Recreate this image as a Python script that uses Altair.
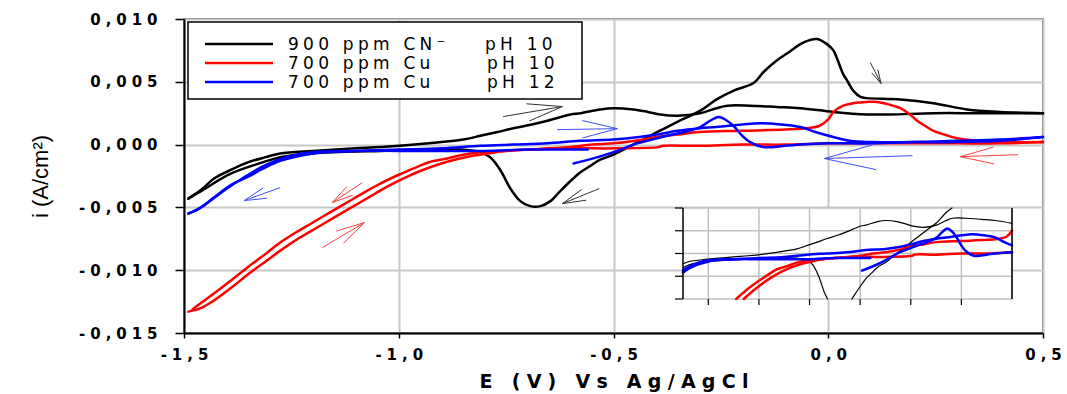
import math
import altair as alt
import pandas as pd

SP = "\u2004"
SP_LEG = "\u2005"


def spaced(s, sp=SP):
    return sp.join(s)


# ---------------- data ----------------
names = ["900 ppm CN\u207b pH 10", "700 ppm Cu pH 10", "700 ppm Cu pH 12"]
colors = ["#000000", "#ff0000", "#0000ff"]

# black : 900 ppm CN- pH 10
bf_E = [-1.49, -1.46, -1.43, -1.39, -1.35, -1.31, -1.276, -1.2, -1.1, -1.04, -0.93, -0.85, -0.81, -0.77,
        -0.733, -0.69, -0.654, -0.6, -0.577, -0.531, -0.5, -0.454, -0.42, -0.391, -0.352, -0.298, -0.26,
        -0.235, -0.182, -0.12, -0.065, 0.012, 0.09, 0.145, 0.245, 0.35, 0.5]
bf_i = [-0.0043, -0.0036, -0.0027, -0.0020, -0.0014, -0.0010, -0.0007, -0.0005, -0.0003, -0.0002, 0.0001,
        0.0004, 0.0007, 0.0010, 0.0013, 0.0016, 0.0019, 0.0024, 0.0025, 0.0028, 0.0029, 0.0028, 0.0026,
        0.0024, 0.0023, 0.0025, 0.0029, 0.0031, 0.0031, 0.0030, 0.0029, 0.0026, 0.0024, 0.0024, 0.0025,
        0.0025, 0.0025]
br_E = [0.5, 0.4, 0.323, 0.245, 0.168, 0.09, 0.075, 0.058, 0.044, 0.035, 0.02, 0.012, -0.003, -0.026, -0.045,
        -0.065, -0.09, -0.12, -0.15, -0.174, -0.22, -0.26, -0.298, -0.34, -0.375, -0.415, -0.454, -0.5, -0.531,
        -0.554, -0.577, -0.6, -0.624, -0.647, -0.67, -0.694, -0.717, -0.74, -0.764, -0.787, -0.81, -0.85, -0.93,
        -1.04, -1.2, -1.276, -1.315, -1.39, -1.46, -1.49]
br_i = [0.0025, 0.0026, 0.0028, 0.0033, 0.0036, 0.0037, 0.0038, 0.0043, 0.0051, 0.0056, 0.0069, 0.0075, 0.0080,
        0.0084, 0.0083, 0.0080, 0.0074, 0.0067, 0.0058, 0.0049, 0.0043, 0.0036, 0.0027, 0.0020, 0.0014, 0.0007,
        0.0000, -0.0008, -0.0012, -0.0017, -0.0022, -0.0029, -0.0037, -0.0045, -0.0049, -0.0049, -0.0045,
        -0.0035, -0.0020, -0.0010, -0.0006, -0.0004, -0.0004, -0.0005, -0.0007, -0.0010, -0.0014, -0.0023,
        -0.0037, -0.0043]

# red : 700 ppm Cu pH 10
rf_E = [-1.49, -1.46, -1.43, -1.39, -1.35, -1.31, -1.27, -1.23, -1.19, -1.15, -1.11, -1.07, -1.03, -0.99, -0.95,
        -0.91, -0.87, -0.83, -0.79, -0.75, -0.70, -0.65, -0.60, -0.55, -0.50, -0.45, -0.40, -0.35, -0.30, -0.20,
        -0.10, -0.05, -0.02, 0.0, 0.012, 0.035, 0.058, 0.09, 0.114, 0.14, 0.168, 0.19, 0.207, 0.225, 0.245, 0.27,
        0.30, 0.35, 0.40, 0.5]
rf_i = [-0.0133, -0.0130, -0.0124, -0.0114, -0.0103, -0.0093, -0.0083, -0.0074, -0.0066, -0.0058, -0.0050,
        -0.0042, -0.0034, -0.0027, -0.0021, -0.0016, -0.0012, -0.0009, -0.0007, -0.0005, -0.0004, -0.0003,
        -0.0002, 0.0, 0.0001, 0.0003, 0.0006, 0.0008, 0.0010, 0.0011, 0.0012, 0.0013, 0.0015, 0.0020, 0.0026,
        0.0031, 0.0033, 0.0034, 0.0034, 0.0032, 0.0029, 0.0024, 0.0019, 0.0015, 0.0011, 0.0008, 0.0005, 0.0003,
        0.0002, 0.0002]
rr_E = [0.5, 0.4, 0.3, 0.2, 0.1, 0.0, -0.1, -0.2, -0.3, -0.385, -0.395, -0.5, -0.6, -0.7, -0.75, -0.81, -0.85,
        -0.887, -0.93, -0.966, -1.0, -1.043, -1.08, -1.12, -1.16, -1.2, -1.24, -1.276, -1.31, -1.353, -1.39,
        -1.432, -1.46, -1.48]
rr_i = [0.0002, 0.0001, 0.0001, 0.0001, 0.0001, 0.0001, 0.0, 0.0, -0.0001, -0.0001, -0.0002, -0.0003, -0.0003,
        -0.0004, -0.0005, -0.0006, -0.0008, -0.0011, -0.0014, -0.0019, -0.0024, -0.0031, -0.0038, -0.0046,
        -0.0054, -0.0062, -0.0070, -0.0078, -0.0087, -0.0098, -0.0108, -0.0119, -0.0126, -0.0131]

# blue : 700 ppm Cu pH 12
ba_E = [-0.593, -0.547, -0.5, -0.445, -0.41, -0.375, -0.335, -0.298, -0.275, -0.256, -0.24, -0.221, -0.2,
        -0.182, -0.151, -0.1, -0.065, 0.0, 0.1, 0.2, 0.3, 0.4, 0.5]
ba_i = [-0.0015, -0.0011, -0.0006, 0.0001, 0.0004, 0.0007, 0.0010, 0.0014, 0.0019, 0.0022, 0.0020, 0.0015,
        0.0007, 0.0002, -0.0002, -0.0001, 0.0, 0.0001, 0.0001, 0.0002, 0.0003, 0.0004, 0.0006]
bb_E = [0.5, 0.4, 0.3, 0.2, 0.1, 0.05, 0.012, -0.03, -0.065, -0.11, -0.158, -0.2, -0.26, -0.298, -0.35, -0.4,
        -0.44, -0.5, -0.577, -0.654, -0.733, -0.81, -0.9, -1.0, -1.1, -1.2, -1.276, -1.315, -1.353, -1.39,
        -1.43, -1.46, -1.49]
bb_i = [0.0006, 0.0003, 0.0002, 0.0002, 0.0002, 0.0003, 0.0006, 0.0010, 0.0014, 0.0016, 0.0017, 0.0016, 0.0014,
        0.0013, 0.0011, 0.0008, 0.0006, 0.0004, 0.0003, 0.0001, 0.0, -0.0001, -0.0003, -0.0004, -0.0005,
        -0.0007, -0.0013, -0.0019, -0.0026, -0.0032, -0.0042, -0.0050, -0.0055]
bc_E = [-1.49, -1.47, -1.44, -1.40, -1.36, -1.32, -1.28, -1.24, -1.2, -1.1, -1.0, -0.9, -0.8, -0.7, -0.6, -0.56]
bc_i = [-0.0055, -0.0052, -0.0045, -0.0035, -0.0026, -0.0018, -0.0012, -0.0008, -0.0006, -0.0005, -0.0005,
        -0.0005, -0.0005, -0.0004, -0.0004, -0.0004]

branches = {
    0: [(bf_E, bf_i), (br_E, br_i)],
    1: [(rf_E, rf_i), (rr_E, rr_i)],
    2: [(ba_E, ba_i), (bb_E, bb_i), (bc_E, bc_i)],
}

# direction arrows: (E tail, i tail, E tip, i tip, colour)
arrows = [
    (-0.757, 0.00223, -0.619, 0.00303, "#333333"),
    (-0.631, 0.00119, -0.491, 0.00127, "#4050ff"),
    (-0.533, -0.0035, -0.619, -0.0047, "#333333"),
    (-1.276, -0.00342, -1.360, -0.00446, "#4050ff"),
    (-1.085, -0.00303, -1.155, -0.00462, "#ff4040"),
    (-1.178, -0.0082, -1.080, -0.00621, "#ff4040"),
    (0.098, 0.00653, 0.123, 0.00486, "#333333"),
    (0.196, -0.00088, -0.009, -0.00111, "#4050ff"),
    (0.442, -0.0008, 0.307, -0.00096, "#ff4040"),
]

x_ticks = [-1.5, -1.0, -0.5, 0.0, 0.5]
y_ticks = [-0.015, -0.010, -0.005, 0.0, 0.005, 0.010]
inset_x_ticks = [-1.2, -1.0, -0.8, -0.6, -0.4, -0.2, 0.0]
inset_y_ticks = [-0.004, -0.002, 0.0, 0.002, 0.004]

W, H = 859, 314
XD = [-1.5, 0.5]
YD = [-0.015, 0.010]
IXD = [-1.3, 0.0]
IYD = [-0.004, 0.004]

# ---------------- helpers ----------------
for s, brs in branches.items():
    for e, i in brs:
        assert len(e) == len(i), (s, len(e), len(i))

rows = []
for s, brs in branches.items():
    for b, (e, i) in enumerate(brs):
        for k, (ee, ii) in enumerate(zip(e, i)):
            rows.append({"series": names[s], "branch": f"{s}-{b}", "k": k, "E": ee, "i": ii})
df = pd.DataFrame(rows)


def lb(p, q, x0, x1, y0, y1):
    dx, dy = q[0] - p[0], q[1] - p[1]
    t0, t1 = 0.0, 1.0
    for pp, qq in ((-dx, p[0] - x0), (dx, x1 - p[0]), (-dy, p[1] - y0), (dy, y1 - p[1])):
        if pp == 0:
            if qq < 0:
                return None
        else:
            r = qq / pp
            if pp < 0:
                t0 = max(t0, r)
            else:
                t1 = min(t1, r)
    if t0 > t1:
        return None
    return t0, t1


def clip_poly(E, I, x0, x1, y0, y1):
    segs, cur = [], []
    pts = list(zip(E, I))
    for a, b in zip(pts[:-1], pts[1:]):
        res = lb(a, b, x0, x1, y0, y1)
        if res is None:
            if len(cur) > 1:
                segs.append(cur)
            cur = []
            continue
        t0, t1 = res
        pa = (a[0] + t0 * (b[0] - a[0]), a[1] + t0 * (b[1] - a[1]))
        pb = (a[0] + t1 * (b[0] - a[0]), a[1] + t1 * (b[1] - a[1]))
        if t0 > 0 or not cur:
            if len(cur) > 1:
                segs.append(cur)
            cur = [pa]
        cur.append(pb)
        if t1 < 1:
            segs.append(cur)
            cur = []
    if len(cur) > 1:
        segs.append(cur)
    return segs


irows = []
for s, brs in branches.items():
    for b, (e, i) in enumerate(brs):
        for g, seg in enumerate(clip_poly(e, i, IXD[0], IXD[1], IYD[0], IYD[1])):
            for k, (ee, ii) in enumerate(seg):
                irows.append({"series": names[s], "branch": f"{s}-{b}-{g}", "k": k, "E": ee, "i": ii})
idf = pd.DataFrame(irows)

# arrows: shaft + two barbs (computed in screen proportion)
sx = W / (XD[1] - XD[0])
sy = H / (YD[1] - YD[0])
arows = []
for (e0, i0, e1, i1, col) in arrows:
    arows.append({"x": e0, "y": i0, "x2": e1, "y2": i1, "col": col})
    dx, dy = (e1 - e0) * sx, (i1 - i0) * sy
    L = math.hypot(dx, dy)
    ux, uy = dx / L, dy / L
    bl = 0.6 * L
    for ang in (math.radians(14), -math.radians(14)):
        rx = ux * math.cos(ang) - uy * math.sin(ang)
        ry = ux * math.sin(ang) + uy * math.cos(ang)
        arows.append({"x": e1 - bl * rx / sx, "y": i1 - bl * ry / sy, "x2": e1, "y2": i1, "col": col})
adf = pd.DataFrame(arows)

# ---------------- main chart ----------------
xs = alt.Scale(domain=XD, nice=False, zero=False)
ys = alt.Scale(domain=YD, nice=False, zero=False)

lab_x = "join(split(replace(replace(format(datum.value,'.1f'),'.',','),'\u2212','-'),''),'" + SP + "')"
lab_y = "join(split(replace(replace(format(datum.value,'.3f'),'.',','),'\u2212','-'),''),'" + SP + "')"

xaxis = alt.Axis(values=x_ticks, labelExpr=lab_x, labelFont="DejaVu Sans", labelFontWeight="bold",
                 labelFontSize=15, labelColor="black", labelPadding=9, labelFlush=False, labelOverlap=False,
                 tickSize=5, tickColor="black", tickWidth=1.5, domainColor="black", domainWidth=2,
                 grid=True, gridColor="#c8c8c8", gridWidth=2,
                 title=spaced("E (V) Vs Ag/AgCl"), titleFont="DejaVu Sans", titleFontSize=19,
                 titleFontWeight="bold", titleColor="black", titleX=W / 2, titleY=48,
                 titleAlign="center", titleBaseline="middle")
yaxis = alt.Axis(values=y_ticks, labelExpr=lab_y, labelFont="DejaVu Sans", labelFontWeight="bold",
                 labelFontSize=15, labelColor="black", labelPadding=18, labelFlush=False, labelOverlap=False,
                 tickSize=9, tickColor="black", tickWidth=1.5, domainColor="black", domainWidth=2,
                 grid=True, gridColor="#c8c8c8", gridWidth=2,
                 title="i (A/cm\u00b2)", titleFont="Liberation Sans Narrow, Liberation Sans, Arial",
                 titleFontSize=22, titleFontWeight="normal", titleColor="black", titleAngle=270,
                 titleX=-144, titleY=157, titleAlign="center", titleBaseline="middle")

cscale = alt.Scale(domain=names, range=colors)


def series_layer(data, idx, width, xsc, ysc, xa, ya):
    return alt.Chart(data[data["series"] == names[idx]]).mark_line(
        strokeWidth=width, interpolate="catmull-rom", strokeCap="round", strokeJoin="round"
    ).encode(
        x=alt.X("E:Q", scale=xsc, axis=xa),
        y=alt.Y("i:Q", scale=ysc, axis=ya),
        color=alt.Color("series:N", scale=cscale, legend=None),
        detail="branch:N",
        order="k:Q",
    )


main_lines = [series_layer(df, s, 2.5, xs, ys, xaxis, yaxis) for s in range(3)]

arrow_layer = alt.Chart(adf).mark_rule(strokeWidth=1).encode(
    x=alt.X("x:Q", scale=xs, axis=xaxis),
    y=alt.Y("y:Q", scale=ys, axis=yaxis),
    x2="x2:Q",
    y2="y2:Q",
    color=alt.Color("col:N", scale=None),
)

one = pd.DataFrame({"a": [0]})
legend_box = alt.Chart(one).mark_rect(fill="white", stroke="black", strokeWidth=1.5).encode(
    x=alt.value(4), x2=alt.value(398), y=alt.value(3), y2=alt.value(80))
legend_parts = [legend_box]
leg_y = [25, 44, 63]
leg_a = ["900 ppm CN\u207b", "700 ppm Cu", "700 ppm Cu"]
leg_b = ["pH 10", "pH 10", "pH 12"]
for r in range(3):
    legend_parts.append(alt.Chart(one).mark_rule(color=colors[r], strokeWidth=2.5).encode(
        x=alt.value(21), x2=alt.value(89), y=alt.value(leg_y[r])))
    legend_parts.append(alt.Chart(one).mark_text(
        align="left", baseline="middle", font="DejaVu Sans", fontSize=17, color="black").encode(
        x=alt.value(104), y=alt.value(leg_y[r] + 1), text=alt.value(spaced(leg_a[r], SP_LEG))))
    legend_parts.append(alt.Chart(one).mark_text(
        align="left", baseline="middle", font="DejaVu Sans", fontSize=17, color="black").encode(
        x=alt.value(301 + (2 if r else 0)), y=alt.value(leg_y[r] + 1), text=alt.value(spaced(leg_b[r], SP_LEG))))

main = alt.layer(*main_lines, arrow_layer, *legend_parts)

# ---------------- inset ----------------
ixs = alt.Scale(domain=IXD, range=[499, 828], nice=False, zero=False)
iys = alt.Scale(domain=IYD, range=[280, 189], nice=False, zero=False)

frame = pd.DataFrame({"E": [IXD[0]], "E2": [IXD[1]], "i": [IYD[0]], "i2": [IYD[1]]})
inset_bg = alt.Chart(frame).mark_rect(fill="white").encode(
    x=alt.X("E:Q", scale=ixs, axis=None), x2="E2:Q",
    y=alt.Y("i:Q", scale=iys, axis=None), y2="i2:Q")

vg = pd.DataFrame({"E": inset_x_ticks, "lo": IYD[0], "hi": IYD[1]})
hg = pd.DataFrame({"i": inset_y_ticks, "lo": IXD[0], "hi": IXD[1]})
inset_vgrid = alt.Chart(vg).mark_rule(color="#c0c0c0", strokeWidth=1.5).encode(
    x=alt.X("E:Q", scale=ixs, axis=None), y=alt.Y("lo:Q", scale=iys, axis=None), y2="hi:Q")
inset_hgrid = alt.Chart(hg).mark_rule(color="#c0c0c0", strokeWidth=1.5).encode(
    y=alt.Y("i:Q", scale=iys, axis=None), x=alt.X("lo:Q", scale=ixs, axis=None), x2="hi:Q")

inset_lines = [
    series_layer(idf, 0, 1.2, ixs, iys, None, None),
    series_layer(idf, 1, 2.5, ixs, iys, None, None),
    series_layer(idf, 2, 2.5, ixs, iys, None, None),
]

borders = pd.DataFrame({"E": IXD, "lo": IYD[0], "hi": IYD[1]})
inset_border = alt.Chart(borders).mark_rule(color="black", strokeWidth=1.5).encode(
    x=alt.X("E:Q", scale=ixs, axis=None), y=alt.Y("lo:Q", scale=iys, axis=None), y2="hi:Q")

lt = pd.DataFrame({"i": inset_y_ticks, "E": IXD[0]})
inset_lticks = alt.Chart(lt).mark_rule(color="black", strokeWidth=1.2, x2Offset=-8).encode(
    x=alt.X("E:Q", scale=ixs, axis=None), x2="E:Q", y=alt.Y("i:Q", scale=iys, axis=None))
bt = pd.DataFrame({"E": inset_x_ticks[:-1], "i": IYD[0]})
inset_bticks = alt.Chart(bt).mark_rule(color="black", strokeWidth=1.2, y2Offset=6).encode(
    y=alt.Y("i:Q", scale=iys, axis=None), y2="i:Q", x=alt.X("E:Q", scale=ixs, axis=None))

inset = alt.layer(inset_bg, inset_vgrid, inset_hgrid, *inset_lines, inset_border, inset_lticks, inset_bticks)

chart = alt.layer(main, inset).resolve_scale(x="independent", y="independent").properties(
    width=W, height=H,
    autosize=alt.AutoSizeParams(type="none"),
    padding={"left": 184, "top": 19, "right": 24, "bottom": 61},
    background="white",
).configure_view(stroke="#444444", strokeWidth=1.5)

chart.save("out.html", embed_options={"renderer": "svg", "actions": False})
